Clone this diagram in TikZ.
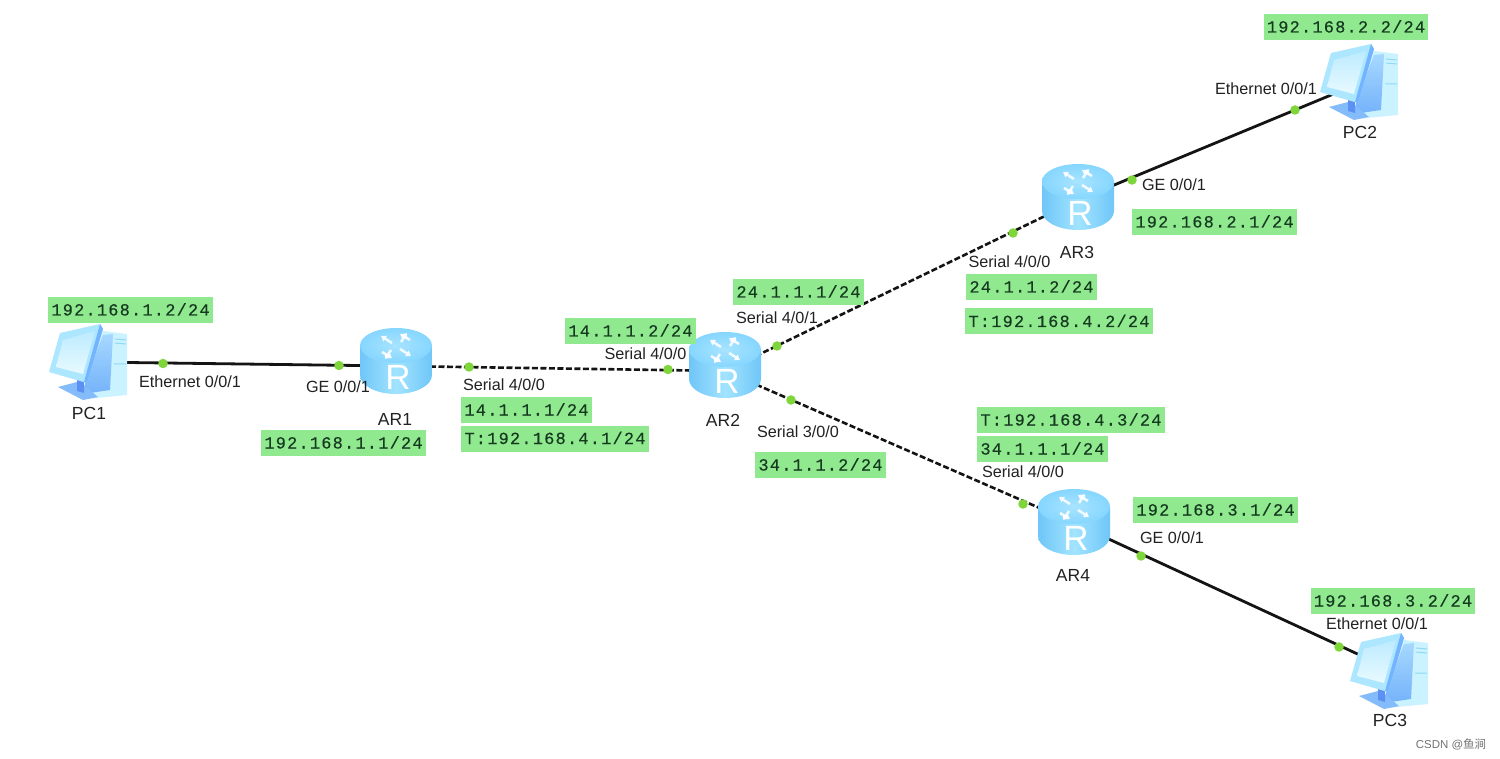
\documentclass[tikz,border=0pt]{standalone}
\usepackage{fontspec}
\setmainfont{Liberation Sans}
\newfontfamily\ipfont[LetterSpace=7,FakeBold=0.3]{Liberation Mono}
\newfontfamily\cjkfont{Noto Sans CJK SC}
\usetikzlibrary{arrows.meta,shadings}
\definecolor{ipgreen}{HTML}{90E98F}
\definecolor{dotgreen}{HTML}{7ED63A}
\definecolor{labelink}{HTML}{222222}
\definecolor{iptext}{HTML}{163A20}
\definecolor{rEdge}{HTML}{6FC6F8}
\definecolor{rMid}{HTML}{A2E4FF}
\definecolor{rTopOut}{HTML}{86D6FF}
\definecolor{rTopIn}{HTML}{A8E4FF}
\definecolor{pcMon}{HTML}{ADE6FF}
\definecolor{pcScrA}{HTML}{BDEBFF}
\definecolor{pcScrB}{HTML}{E8FAFF}
\definecolor{pcBand}{HTML}{74B4FF}
\definecolor{pcPanA}{HTML}{A6D8FF}
\definecolor{pcPanB}{HTML}{74B2FA}
\definecolor{pcTow}{HTML}{CBF3FF}
\definecolor{pcNeck}{HTML}{5C90F2}
\definecolor{pcBase}{HTML}{84BBFB}
\definecolor{pcLine}{HTML}{8FD8F5}
\tikzset{
  hub/.style={inner sep=0pt,minimum size=1pt},
  solidlink/.style={draw=black!92,line width=2.8pt},
  seriallink/.style={draw=black!92,line width=2.6pt,dash pattern=on 6pt off 2.5pt},
  portdot/.style={circle,fill=dotgreen,inner sep=0pt,minimum size=9.5pt},
  ipbox/.style={fill=ipgreen,text=iptext,font=\ipfont\fontsize{17}{19}\selectfont,inner xsep=3pt,inner ysep=0pt,minimum height=26pt,text height=11pt,text depth=0pt},
  portlabel/.style={font=\fontsize{16.2}{18}\selectfont,text=labelink,inner sep=0pt},
  namelabel/.style={font=\fontsize{17.5}{20}\selectfont,text=labelink,inner sep=0pt},
  pics/routericon/.style={code={
    \path[left color=rEdge,right color=rEdge,middle color=rMid]
      (-36,-16) -- (-36,13) arc[start angle=180,end angle=0,x radius=36,y radius=19] -- (36,-16) -- cycle;
    \path[inner color=rTopIn,outer color=rTopOut] (0,-16.5) ellipse[x radius=36,y radius=17.5];
    \begin{scope}[white,line width=2.6pt,opacity=.85]
      \draw[-{Triangle[width=6.5pt,length=5pt]}] (-4,-19) -- (-15,-26);
      \draw[-{Triangle[width=6.5pt,length=5pt]}] (4,-13) -- (15,-6);
      \draw[-{Triangle[width=6.5pt,length=5pt]}] (5,-20) -- (11,-29);
      \draw[-{Triangle[width=6.5pt,length=5pt]}] (-5,-12) -- (-11,-3);
      \draw[-{Triangle[width=6.5pt,length=5pt]}] (14,-22) -- (4,-28);
      \draw[-{Triangle[width=6.5pt,length=5pt]}] (-14,-10) -- (-4,-4);
    \end{scope}
    \node[white,inner sep=0pt,font=\fontsize{35}{38}\selectfont] at (2,15) {R};
  }},
  pics/pcicon/.style={code={
    % tower
    \fill[pcTow] (14,-30) -- (38,-27) -- (38,34) -- (-3,38) -- (-3,18) -- cycle;
    \path[top color=pcPanA,bottom color=pcPanB] (14,-26) -- (24,-27) -- (21,29) -- (-6,33) -- (-3,18) -- cycle;
    \draw[pcLine,line width=1pt] (26,-22) -- (37,-21) (26,-18) -- (37,-17) (25,3) -- (37,3);
    % stand and base
    \fill[pcBase] (-31,26) -- (-12,21) -- (-4,25) -- (9,36) -- (-6,39) -- cycle;
    \fill[pcNeck] (-12,19) -- (-5,20) -- (-5,32) -- (-12,30) -- cycle;
    % monitor
    \fill[pcMon] (-29,-28) -- (11,-37) -- (14,-32) -- (-2,22) -- (-40,11) -- cycle;
    \fill[pcBand] (11,-37) -- (14,-32) -- (-2,22) -- (-5,21) -- cycle;
    \path[top color=pcScrA,bottom color=pcScrB] (-26,-21) -- (6,-30) -- (-6,13) -- (-33,6) -- cycle;
  }}
}
\begin{document}
\begin{tikzpicture}[x=1pt,y=-1pt]
\useasboundingbox[fill=white] (0,0) rectangle (1500,759);
% hubs
\node[hub] (PC1) at (89,362) {};
\node[hub] (AR1) at (396,366) {};
\node[hub] (AR2) at (725,371) {};
\node[hub] (AR3) at (1078,200) {};
\node[hub] (AR4) at (1074,523) {};
\node[hub] (PC2) at (1360,83) {};
\node[hub] (PC3) at (1390,669) {};
% links
\draw[solidlink] (PC1.center) -- (AR1.center);
\draw[seriallink] (AR1.center) -- (AR2.center);
\draw[seriallink] (AR2.center) -- (AR3.center);
\draw[seriallink] (AR2.center) -- (AR4.center);
\draw[solidlink] (AR3.center) -- (PC2.center);
\draw[solidlink] (AR4.center) -- (PC3.center);
% icons
\pic at (89,361) {pcicon};
\pic at (1360,81) {pcicon};
\pic at (1390,670) {pcicon};
\pic at (396,362) {routericon};
\pic at (725,366) {routericon};
\pic at (1078,198) {routericon};
\pic at (1074,523) {routericon};
% port dots
\node[portdot] (d1) at (163,363.5) {};
\node[portdot] (d2) at (339,365.5) {};
\node[portdot] (d3) at (469,367) {};
\node[portdot] (d4) at (668,369.5) {};
\node[portdot] (d5) at (777,346) {};
\node[portdot] (d6) at (1013,233) {};
\node[portdot] (d7) at (791,400) {};
\node[portdot] (d8) at (1023,504) {};
\node[portdot] (d9) at (1132,180) {};
\node[portdot] (d10) at (1295,110) {};
\node[portdot] (d11) at (1141,556) {};
\node[portdot] (d12) at (1339,647) {};
% IP boxes
\node[ipbox] (ip1) at (130.5,310) {192.168.1.2/24};
\node[ipbox] (ip2) at (343.5,443) {192.168.1.1/24};
\node[ipbox] (ip3) at (526.5,410) {14.1.1.1/24};
\node[ipbox] (ip4) at (555,438.5) {T:192.168.4.1/24};
\node[ipbox] (ip5) at (630.5,331) {14.1.1.2/24};
\node[ipbox] (ip6) at (798.5,292) {24.1.1.1/24};
\node[ipbox] (ip7) at (1031.5,287) {24.1.1.2/24};
\node[ipbox] (ip8) at (1059,321.5) {T:192.168.4.2/24};
\node[ipbox] (ip9) at (1214.5,222) {192.168.2.1/24};
\node[ipbox] (ip10) at (1346,27) {192.168.2.2/24};
\node[ipbox] (ip11) at (1071,420) {T:192.168.4.3/24};
\node[ipbox] (ip12) at (1042.5,449) {34.1.1.1/24};
\node[ipbox] (ip13) at (820.5,465) {34.1.1.2/24};
\node[ipbox] (ip14) at (1215.5,510) {192.168.3.1/24};
\node[ipbox] (ip15) at (1393,601) {192.168.3.2/24};
% port labels
\node[portlabel] (p1) at (190,382) {Ethernet 0/0/1};
\node[portlabel] (p2) at (338,387) {GE 0/0/1};
\node[portlabel] (p3) at (504,385) {Serial 4/0/0};
\node[portlabel] (p4) at (645.5,354) {Serial 4/0/0};
\node[portlabel] (p5) at (777,318) {Serial 4/0/1};
\node[portlabel] (p6) at (1009.5,262) {Serial 4/0/0};
\node[portlabel] (p7) at (798,432) {Serial 3/0/0};
\node[portlabel] (p8) at (1023,472) {Serial 4/0/0};
\node[portlabel] (p9) at (1174,185) {GE 0/0/1};
\node[portlabel] (p10) at (1266,89) {Ethernet 0/0/1};
\node[portlabel] (p11) at (1172,538) {GE 0/0/1};
\node[portlabel] (p12) at (1377,624) {Ethernet 0/0/1};
% names
\node[namelabel] (n1) at (89,413) {PC1};
\node[namelabel] (n2) at (395,419) {AR1};
\node[namelabel] (n3) at (723,420) {AR2};
\node[namelabel] (n4) at (1077,252) {AR3};
\node[namelabel] (n5) at (1073,575) {AR4};
\node[namelabel] (n6) at (1360,132) {PC2};
\node[namelabel] (n7) at (1390,720) {PC3};
% watermark
\node[inner sep=0pt,text=black!55,font=\fontsize{11.5}{13}\selectfont] (wm) at (1451,744) {CSDN @{\cjkfont 鱼涧}};
\end{tikzpicture}
\end{document}
